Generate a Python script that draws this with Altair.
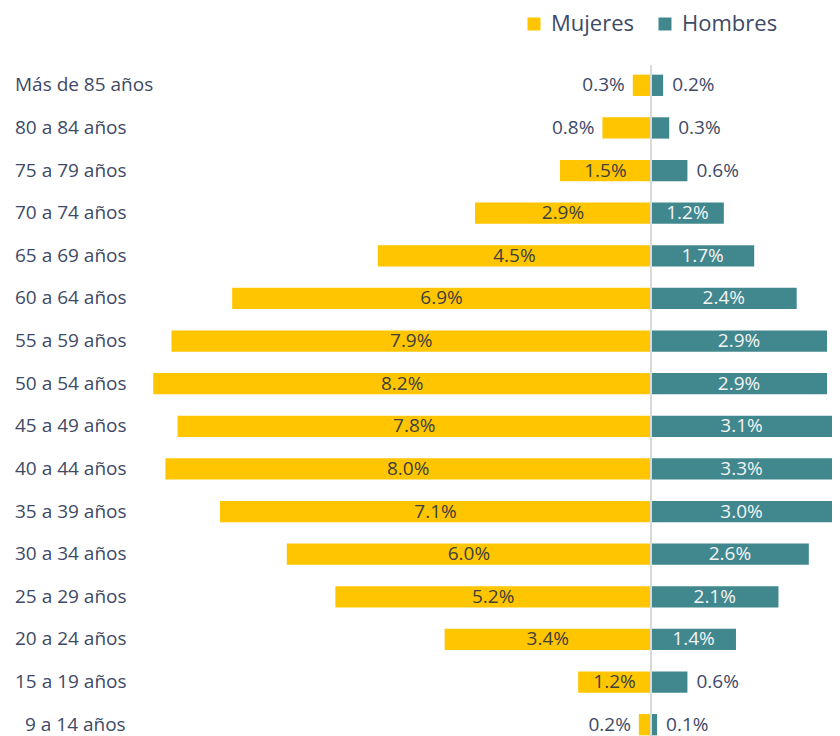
import altair as alt
import pandas as pd

grupos = ["Más de 85 años", "80 a 84 años", "75 a 79 años", "70 a 74 años",
          "65 a 69 años", "60 a 64 años", "55 a 59 años", "50 a 54 años",
          "45 a 49 años", "40 a 44 años", "35 a 39 años", "30 a 34 años",
          "25 a 29 años", "20 a 24 años", "15 a 19 años", "9 a 14 años"]
mujeres = [0.3, 0.8, 1.5, 2.9, 4.5, 6.9, 7.9, 8.2, 7.8, 8.0, 7.1, 6.0, 5.2, 3.4, 1.2, 0.2]
hombres = [0.2, 0.3, 0.6, 1.2, 1.7, 2.4, 2.9, 2.9, 3.1, 3.3, 3.0, 2.6, 2.1, 1.4, 0.6, 0.1]
series = ["Mujeres", "Hombres"]
colores = ["#FFC600", "#40878E"]

FONT = "Open Sans"
TXT = "#3E4A66"
W, H = 824, 728
ZERO_PX = 643.0
PX_PER = 60.7
XMIN = -ZERO_PX / PX_PER
XMAX = (W - ZERO_PX) / PX_PER

rows = []
for g, m, h in zip(grupos, mujeres, hombres):
    for s, v in (("Mujeres", m), ("Hombres", h)):
        signo = -1 if s == "Mujeres" else 1
        vis = min(v, XMAX) if s == "Hombres" else v
        rows.append({
            "grupo": g, "sexo": s, "valor": v,
            "signed": signo * v,
            "mid": signo * vis / 2,
            "etq": f"{v:.1f}%",
            "dentro": v >= 1.0,
        })
df = pd.DataFrame(rows)

cats = pd.DataFrame({
    "grupo": grupos,
    "corto": [len(g.split()[0]) == 1 for g in grupos],
})

xscale = alt.Scale(domain=[XMIN, XMAX], nice=False, zero=False)
yscale = alt.Scale(domain=grupos, range=[56, 738], paddingInner=0.5, paddingOuter=0.25)
Y = alt.Y("grupo:N", sort=grupos, scale=yscale, axis=None)

bars = alt.Chart(df).mark_bar(clip=True).encode(
    x=alt.X("signed:Q", scale=xscale, axis=None),
    x2=alt.datum(0),
    y=Y,
    color=alt.Color(
        "sexo:N",
        scale=alt.Scale(domain=series, range=colores),
        legend=alt.Legend(
            title=None, orient="none", legendX=515, legendY=5,
            direction="horizontal", symbolType="square", symbolSize=169,
            symbolStrokeWidth=0, labelFontSize=22, labelColor=TXT,
            labelOffset=6, columnPadding=19, padding=0, labelFont=FONT,
        ),
    ),
)

zero_rule = alt.Chart(pd.DataFrame({"signed": [0]})).mark_rule(
    color="#D9D9D9", strokeWidth=2
).encode(x=alt.X("signed:Q", scale=xscale), y=alt.value(57), y2=alt.value(H))

FS = 19
lab_in_m = alt.Chart(df).transform_filter(
    "datum.dentro && datum.sexo == 'Mujeres'"
).mark_text(fontSize=FS, color="#404040", baseline="middle", align="center", font=FONT).encode(
    x=alt.X("mid:Q", scale=xscale), y=Y, text="etq:N"
)
lab_in_h = alt.Chart(df).transform_filter(
    "datum.dentro && datum.sexo == 'Hombres'"
).mark_text(fontSize=FS, color="#F4F4F4", baseline="middle", align="center", font=FONT).encode(
    x=alt.X("mid:Q", scale=xscale), y=Y, text="etq:N"
)
lab_out_m = alt.Chart(df).transform_filter(
    "!datum.dentro && datum.sexo == 'Mujeres'"
).mark_text(fontSize=FS, color=TXT, baseline="middle", align="right", dx=-8, font=FONT).encode(
    x=alt.X("signed:Q", scale=xscale), y=Y, text="etq:N"
)
lab_out_h = alt.Chart(df).transform_filter(
    "!datum.dentro && datum.sexo == 'Hombres'"
).mark_text(fontSize=FS, color=TXT, baseline="middle", align="left", dx=9, font=FONT).encode(
    x=alt.X("signed:Q", scale=xscale), y=Y, text="etq:N"
)

cat_labels = alt.Chart(cats).transform_filter("!datum.corto").mark_text(
    fontSize=FS, color=TXT, baseline="middle", align="left", font=FONT
).encode(x=alt.value(7), y=Y, text="grupo:N")
cat_labels_short = alt.Chart(cats).transform_filter("datum.corto").mark_text(
    fontSize=FS, color=TXT, baseline="middle", align="left", font=FONT, dx=10
).encode(x=alt.value(7), y=Y, text="grupo:N")

chart = alt.layer(
    bars, zero_rule, lab_in_m, lab_in_h, lab_out_m, lab_out_h, cat_labels, cat_labels_short
).properties(
    width=W, height=H, padding=0,
    autosize=alt.AutoSizeParams(type="none"),
).configure(font=FONT, view=alt.ViewConfig(strokeWidth=0))

chart.save("out.html", embed_options={"renderer": "svg", "actions": False})
